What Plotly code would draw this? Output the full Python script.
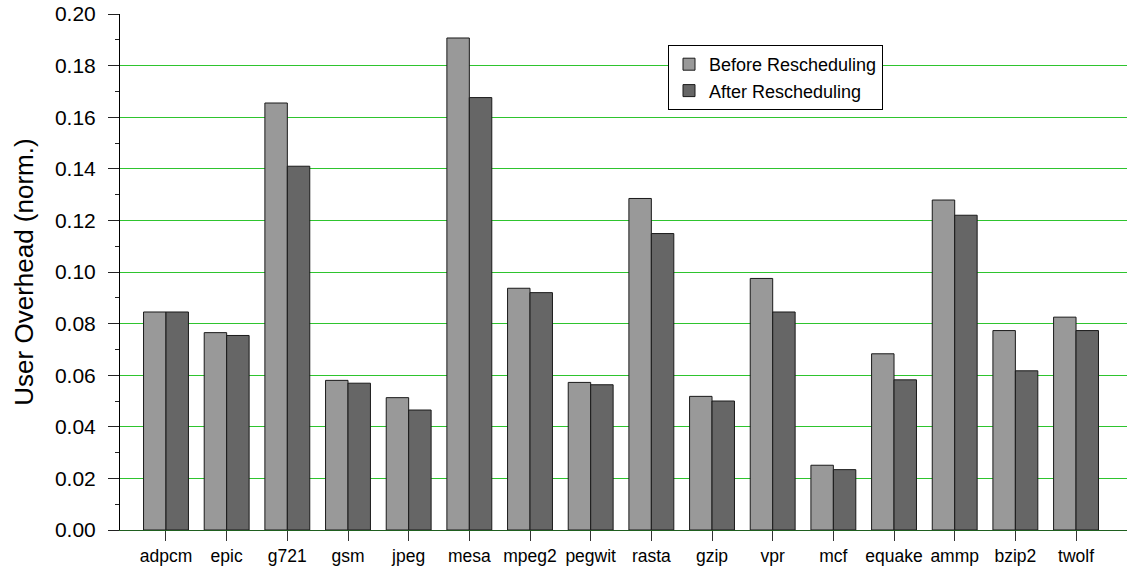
import plotly.graph_objects as go

benchmarks = ["adpcm", "epic", "g721", "gsm", "jpeg", "mesa", "mpeg2", "pegwit",
              "rasta", "gzip", "vpr", "mcf", "equake", "ammp", "bzip2", "twolf"]
before_resched = [0.0845, 0.0765, 0.1655, 0.0580, 0.0513, 0.1907, 0.0937, 0.0572,
                  0.1285, 0.0518, 0.0975, 0.0251, 0.0683, 0.1279, 0.0773, 0.0825]
after_resched = [0.0845, 0.0754, 0.1410, 0.0569, 0.0465, 0.1676, 0.0920, 0.0563,
                 0.1149, 0.0500, 0.0845, 0.0234, 0.0582, 0.1220, 0.0617, 0.0773]

FONT = "Liberation Sans, Arial, Helvetica, sans-serif"
x_pos = list(range(len(benchmarks)))

fig = go.Figure()
fig.add_trace(go.Bar(
    x=x_pos, y=before_resched, name="Before Rescheduling",
    marker=dict(color="#999999", line=dict(color="#1a1a1a", width=1)),
))
fig.add_trace(go.Bar(
    x=x_pos, y=after_resched, name="After Rescheduling",
    marker=dict(color="#666666", line=dict(color="#1a1a1a", width=1)),
))

fig.update_layout(
    width=1127, height=569,
    margin=dict(l=120, r=0, t=14, b=39),
    paper_bgcolor="white", plot_bgcolor="white",
    barmode="group", bargap=0.26, bargroupgap=0,
    font=dict(family=FONT, color="black"),
    legend=dict(
        x=(668 - 120) / 1007, y=1 - (45 - 14) / 516,
        xanchor="left", yanchor="top",
        bgcolor="white", bordercolor="black", borderwidth=1,
        font=dict(size=18, family=FONT),
        itemwidth=30,
    ),
    showlegend=True,
)

fig.update_xaxes(
    range=[-0.758, 15.84],
    tickmode="array", tickvals=x_pos, ticktext=benchmarks,
    ticks="outside", ticklen=10, tickcolor="#333333", tickwidth=1,
    showline=True, linecolor="#1f5f1f", linewidth=1,
    showgrid=False, zeroline=False,
    tickfont=dict(size=17.5, family=FONT),
)

fig.update_yaxes(
    range=[0, 0.20], dtick=0.02, tickformat=".2f",
    ticks="outside", ticklen=11, tickcolor="#222222", tickwidth=1,
    ticklabelstandoff=8,
    minor=dict(dtick=0.01, ticks="outside", ticklen=4, tickcolor="#222222", showgrid=False),
    showline=True, linecolor="black", linewidth=1,
    showgrid=True, gridcolor="#2ec42e", gridwidth=1,
    zeroline=False,
    tickfont=dict(size=21, family=FONT),
    title=dict(text="User Overhead (norm.)", font=dict(size=26, family=FONT), standoff=13),
)

fig.write_html("out.html")
